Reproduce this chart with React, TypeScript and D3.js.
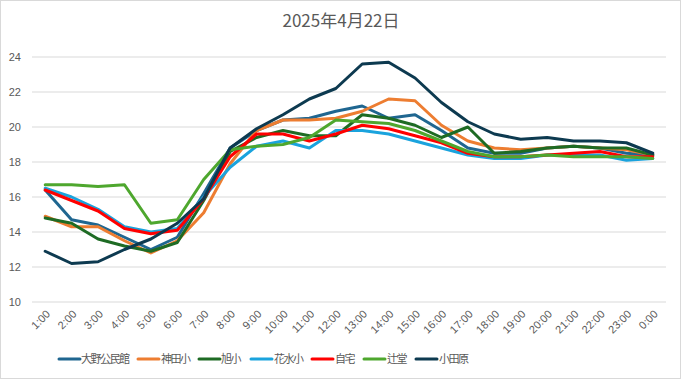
import React from "react";
import * as d3 from "d3";

const hours = ["1:00","2:00","3:00","4:00","5:00","6:00","7:00","8:00","9:00","10:00","11:00","12:00","13:00","14:00","15:00","16:00","17:00","18:00","19:00","20:00","21:00","22:00","23:00","0:00"];
const yTicks = [10, 12, 14, 16, 18, 20, 22, 24];

const seriesNames = ["大野公民館", "神田小", "旭小", "花水小", "自宅", "辻堂", "小田原"];
const seriesColors = ["#1f6690", "#ed7d31", "#1e6b24", "#1aa3dd", "#ff0000", "#4ea72e", "#0d3a50"];

const oonoValues = [16.4, 14.7, 14.4, 13.7, 13.0, 13.7, 16.2, 18.8, 19.8, 20.4, 20.5, 20.9, 21.2, 20.5, 20.7, 19.8, 18.8, 18.5, 18.5, 18.8, 18.9, 18.8, 18.5, 18.4];
const kandaValues = [14.9, 14.3, 14.3, 13.5, 12.8, 13.5, 15.1, 17.9, 19.8, 20.4, 20.4, 20.5, 20.9, 21.6, 21.5, 20.1, 19.2, 18.8, 18.7, 18.8, 18.9, 18.8, 18.7, 18.4];
const asahiValues = [14.8, 14.5, 13.6, 13.2, 12.9, 13.4, 15.8, 18.6, 19.4, 19.8, 19.5, 19.5, 20.7, 20.5, 20.1, 19.4, 20.0, 18.5, 18.6, 18.8, 18.9, 18.8, 18.8, 18.4];
const hanamizuValues = [16.5, 16.0, 15.3, 14.3, 14.0, 14.2, 16.0, 17.7, 18.9, 19.2, 18.8, 19.8, 19.8, 19.6, 19.2, 18.8, 18.4, 18.2, 18.2, 18.4, 18.4, 18.4, 18.1, 18.2];
const jitakuValues = [16.4, 15.8, 15.2, 14.2, 13.9, 14.1, 15.9, 18.3, 19.6, 19.6, 19.2, 19.6, 20.1, 19.9, 19.5, 19.1, 18.5, 18.3, 18.3, 18.4, 18.5, 18.6, 18.3, 18.3];
const tsujidoValues = [16.7, 16.7, 16.6, 16.7, 14.5, 14.7, 17.0, 18.7, 18.9, 19.0, 19.4, 20.4, 20.3, 20.2, 19.8, 19.2, 18.6, 18.3, 18.3, 18.4, 18.3, 18.3, 18.3, 18.2];
const odawaraValues = [12.9, 12.2, 12.3, 13.0, 13.6, 14.5, 15.9, 18.8, 19.9, 20.7, 21.6, 22.2, 23.6, 23.7, 22.8, 21.4, 20.3, 19.6, 19.3, 19.4, 19.2, 19.2, 19.1, 18.5];

const seriesValues = [oonoValues, kandaValues, asahiValues, hanamizuValues, jitakuValues, tsujidoValues, odawaraValues];

const W = 681, H = 379;
const textColor = "#595959";
const gridColor = "#d9d9d9";

export default function App() {
  const x = d3.scaleBand<string>().domain(hours).range([32, 666]).padding(0);
  const y = d3.scaleLinear().domain([10, 24]).range([302, 57]);
  const cx = (h: string) => (x(h) ?? 0) + x.bandwidth() / 2;
  const line = d3.line<number>().x((_, i) => cx(hours[i])).y((v) => y(v));

  const legendItems = [
    { lx: 59, tx: 81 },
    { lx: 138, tx: 161 },
    { lx: 199, tx: 221 },
    { lx: 251, tx: 274 },
    { lx: 312, tx: 335 },
    { lx: 364, tx: 387 },
    { lx: 416, tx: 439 },
  ];

  return (
    <svg width={W} height={H} style={{ position: "absolute", left: 0, top: 0, background: "#fff" }}
      fontFamily="'Noto Sans CJK JP', 'Noto Sans', sans-serif">
      <rect x={0.5} y={0.5} width={W - 1} height={H - 1} fill="#fff" stroke="#d9d9d9" />
      <text x={341} y={27} textAnchor="middle" fontSize={17} fill={textColor}>2025年4月22日</text>
      {yTicks.map((t) => (
        <g key={t}>
          <line x1={32} x2={666} y1={y(t)} y2={y(t)} stroke={gridColor} strokeWidth={1} />
          <text x={21} y={y(t)} dy="0.35em" textAnchor="end" fontSize={11}
            fontFamily="'Liberation Sans', Arial, sans-serif" fill={textColor}>{t}</text>
        </g>
      ))}
      {hours.map((h) => (
        <text key={h} transform={`translate(${cx(h) + 3},${312}) rotate(-45)`} textAnchor="end"
          fontSize={11} dy="0.35em" fontFamily="'Liberation Sans', Arial, sans-serif" fill={textColor}>{h}</text>
      ))}
      {seriesValues.map((vals, i) => (
        <path key={seriesNames[i]} d={line(vals) ?? ""} fill="none" stroke={seriesColors[i]}
          strokeWidth={3} strokeLinejoin="round" strokeLinecap="round" />
      ))}
      {seriesNames.map((n, i) => (
        <g key={n}>
          <line x1={legendItems[i].lx} x2={legendItems[i].lx + 21} y1={359} y2={359}
            stroke={seriesColors[i]} strokeWidth={3} strokeLinecap="round" />
          <text x={legendItems[i].tx} y={359} dy="0.36em" fontSize={11} letterSpacing={-1.5} fill={textColor}>{n}</text>
        </g>
      ))}
    </svg>
  );
}
